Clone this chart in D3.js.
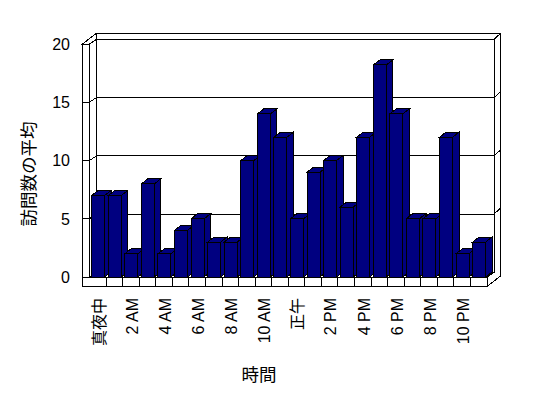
<!DOCTYPE html>
<html>
<head>
<meta charset="utf-8">
<script src="https://cdn.jsdelivr.net/npm/d3@7/dist/d3.min.js"></script>
<style>
  html, body { margin: 0; padding: 0; background: #fff; }
  svg { display: block; }
  text { font-family: "Liberation Sans", Arial, "Noto Sans CJK JP", sans-serif; fill: #000; }
  .cjk { font-family: "Noto Sans CJK JP", sans-serif; }
</style>
</head>
<body>
<svg id="chart" width="548" height="398"></svg>
<script>
const categories = ["真夜中","1 AM","2 AM","3 AM","4 AM","5 AM","6 AM","7 AM","8 AM","9 AM","10 AM","11 AM",
                    "正午","1 PM","2 PM","3 PM","4 PM","5 PM","6 PM","7 PM","8 PM","9 PM","10 PM","11 PM"];
const values = [7,7,2,8,2,4,5,3,3,10,14,12,5,9,10,6,12,18.2,14,5,5,12,2,3];
const yTicks = [0,5,10,15,20];
const yTitle = "訪問数の平均";
const xTitle = "時間";

const svg = d3.select("#chart");
const g = svg.append("g").attr("shape-rendering", "crispEdges");

const x = d3.scaleBand().domain(categories).range([89.5, 487]).paddingInner(0).paddingOuter(0);
const y = d3.scaleLinear().domain([0, 20]).range([277, 44]);

// depth offsets
const d1 = [7, -4.7];     // front -> back wall front face
const d2 = [13.5, -10.5]; // front -> back wall back face
const wallT = 7;          // left wall thickness
const floorT = 9.5;       // floor thickness
const bd = [6.5, -5];     // bar depth

const X0 = x.range()[0], X1 = x.range()[1];
const yTop = y(20), yBase = y(0);
const yFloorBot = yBase + floorT;
const xWallOut = X0 - wallT;

const poly = (pts) => pts.map(p => p.join(",")).join(" ");
const st = { fill: "#fff", stroke: "#000", "stroke-width": 1 };
function P(pts, attrs) {
  const e = g.append("polygon").attr("points", poly(pts));
  Object.entries(Object.assign({}, st, attrs || {})).forEach(([k, v]) => e.attr(k, v));
  return e;
}

// back wall front face
P([[X0 + d1[0], yTop + d1[1]], [X1 + d1[0], yTop + d1[1]], [X1 + d1[0], yBase + d1[1]], [X0 + d1[0], yBase + d1[1]]]);
// right side of back wall + floor
P([[X1, yFloorBot], [X1, yBase], [X1 + d1[0], yBase + d1[1]], [X1 + d1[0], yTop + d1[1]],
   [X1 + d2[0], yTop + d2[1]], [X1 + d2[0], yFloorBot + d2[1]]]);
// top of back wall
P([[X0 + d1[0], yTop + d1[1]], [xWallOut + d2[0], yTop + d2[1]], [X1 + d2[0], yTop + d2[1]], [X1 + d1[0], yTop + d1[1]]]);
// left wall top face
P([[xWallOut, yTop], [X0, yTop], [X0 + d1[0], yTop + d1[1]], [xWallOut + d2[0], yTop + d2[1]]]);
// left wall inner face
P([[X0, yBase], [X0, yTop], [X0 + d1[0], yTop + d1[1]], [X0 + d1[0], yBase + d1[1]]]);
// left wall front face
P([[xWallOut, yBase], [X0, yBase], [X0, yTop], [xWallOut, yTop]]);
// floor top face
P([[X0, yBase], [X1, yBase], [X1 + d1[0], yBase + d1[1]], [X0 + d1[0], yBase + d1[1]]]);
// floor front face
P([[xWallOut, yBase], [X1, yBase], [X1, yFloorBot], [xWallOut, yFloorBot]]);

// gridlines: front of left wall, inner left wall, back wall
yTicks.filter(v => v > 0 && v < 20).forEach(v => {
  const yy = y(v);
  g.append("polyline")
    .attr("points", poly([[xWallOut, yy], [X0, yy], [X0 + d1[0], yy + d1[1]], [X1 + d1[0], yy + d1[1]]]))
    .attr("fill", "none").attr("stroke", "#000");
  g.append("line").attr("x1", X1 + d1[0]).attr("y1", yy + d1[1])
    .attr("x2", X1 + d2[0]).attr("y2", yy + d2[1]).attr("stroke", "#000");
});

// floor front dividers
categories.slice(1).forEach(c => {
  const xx = x(c);
  g.append("line").attr("x1", xx).attr("x2", xx).attr("y1", yBase).attr("y2", yFloorBot).attr("stroke", "#000");
});

// bars
const bw = 13, bo = 2.2;
const fill = "#000080";
categories.forEach((c, i) => {
  const v = values[i];
  const xl = x(c) + bo, xr = xl + bw;
  const yt = y(v), yb = y(0);
  // right side
  P([[xr, yb], [xr, yt], [xr + bd[0], yt + bd[1]], [xr + bd[0], yb + bd[1]]], { fill });
  // top
  P([[xl, yt], [xr, yt], [xr + bd[0], yt + bd[1]], [xl + bd[0], yt + bd[1]]], { fill });
  // front
  P([[xl, yb], [xr, yb], [xr, yt], [xl, yt]], { fill });
});

// y tick labels
svg.append("g").selectAll("text").data(yTicks).join("text")
  .attr("x", 70).attr("y", d => y(d)).attr("dy", "0.36em")
  .attr("text-anchor", "end").attr("font-size", 16).text(d => d);

// x tick labels (every other category)
svg.append("g").selectAll("text").data(categories.filter((c, i) => i % 2 === 0)).join("text")
  .attr("class", d => /[^\x00-\x7F]/.test(d) ? "cjk" : null)
  .attr("transform", d => `translate(${x(d) + x.bandwidth() / 2 + 1},298) rotate(-90)`)
  .attr("text-anchor", "end").attr("dy", "0.36em").attr("font-size", 16).text(d => d);

// titles
svg.append("text").attr("class", "cjk")
  .attr("transform", "translate(29,174) rotate(-90)")
  .attr("text-anchor", "middle").attr("dy", "0.36em").attr("font-size", 17.5).text(yTitle);
svg.append("text").attr("class", "cjk")
  .attr("x", 259).attr("y", 375).attr("text-anchor", "middle").attr("dy", "0.36em")
  .attr("font-size", 17.5).text(xTitle);
</script>
</body>
</html>
